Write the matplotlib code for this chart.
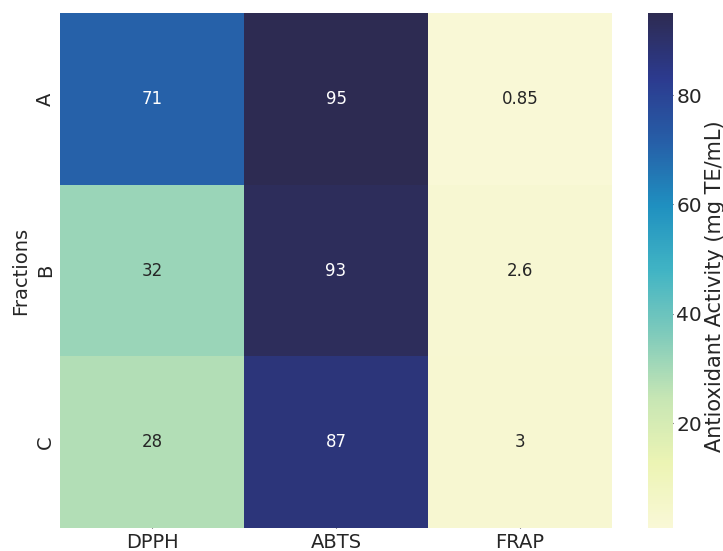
import matplotlib
matplotlib.use("Agg")
import matplotlib.pyplot as plt
from matplotlib.colors import LinearSegmentedColormap
import pandas as pd
import seaborn as sns

fractions = ["A", "B", "C"]
assays = ["DPPH", "ABTS", "FRAP"]
dpph = [71, 32, 28]
abts = [95, 93, 87]
frap = [0.85, 2.6, 3]

df = pd.DataFrame({"DPPH": dpph, "ABTS": abts, "FRAP": frap}, index=fractions)

# YlGnBu-like ramp, a bit muted at the ends like the original render
cmap = LinearSegmentedColormap.from_list("muted_ylgnbu", [
    "#f9f8d6", "#ecf4b4", "#c7e6b4", "#80cbbb", "#41b4c4",
    "#1f90c0", "#265fa8", "#2c3a8e", "#2d2b52"])

sns.set_style("ticks")
fig = plt.figure(figsize=(7.23, 5.51), dpi=100)
ax = fig.add_axes([0.083, 0.0417, 0.7635, 0.9347])
cax = fig.add_axes([0.896, 0.0417, 0.0346, 0.9347])

sns.heatmap(df, annot=True, cmap=cmap, ax=ax, cbar_ax=cax,
            annot_kws={"fontsize": 12},
            cbar_kws={"label": "Antioxidant Activity (mg TE/mL)"})

ax.set_ylabel("Fractions", fontsize=14)
ax.tick_params(axis="x", labelsize=14, direction="in", length=5)
ax.tick_params(axis="y", labelsize=14, labelrotation=90, direction="in", length=5)
cax.tick_params(labelsize=14.5, direction="in", length=5, pad=2.5)
cax.yaxis.label.set_size(15)
cax.yaxis.set_label_coords(2.3, 0.469)
for s in cax.spines.values():
    s.set_visible(False)

fig.savefig("out.png", dpi=100)
